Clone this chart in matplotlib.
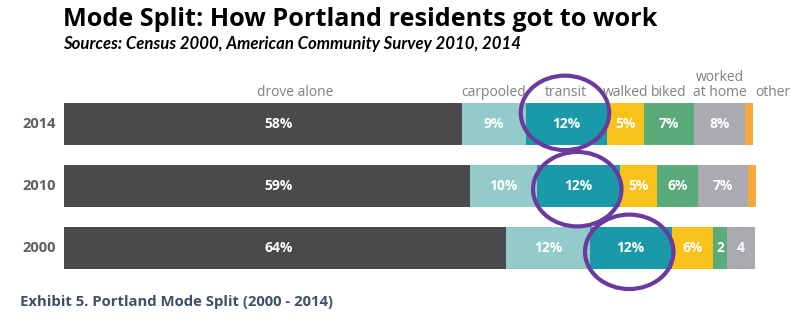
import matplotlib.pyplot as plt
from matplotlib.patches import Ellipse

plt.rcParams['font.family'] = ['Open Sans', 'DejaVu Sans']

# datos (porcentaje)
years = ['2014', '2010', '2000']
modes = ['drove alone', 'carpooled', 'transit', 'walked', 'biked', 'worked\nat home', 'other']
drove = [57.6, 58.7, 64.0]
carpool = [9.2, 9.75, 12.05]
transit = [11.8, 12.06, 11.9]
walked = [5.4, 5.3, 6.0]
biked = [7.1, 6.0, 2.0]
home = [7.5, 7.2, 4.0]
other = [1.1, 1.1, 0.0]
labels = [
    ['58%', '9%', '12%', '5%', '7%', '8%', ''],
    ['59%', '10%', '12%', '5%', '6%', '7%', ''],
    ['64%', '12%', '12%', '6%', '2', '4', ''],
]
colors = ['#4a4a4c', '#93cbcb', '#1a9aa8', '#f9c21a', '#5aaa7a', '#a9abb0', '#f7a83a']

series = [drove, carpool, transit, walked, biked, home, other]

fig = plt.figure(figsize=(8, 3.25), dpi=100)
ax = fig.add_axes([0, 0, 1, 1])
ax.set_xlim(-64 / 6.91, (800 - 64) / 6.91)
ax.set_ylim(3.24, -2.0)
ax.axis('off')

ypos = list(range(len(years)))
left = [0.0] * len(years)
for k, vals in enumerate(series):
    bars = ax.barh(ypos, vals, left=left, height=0.68, color=colors[k], edgecolor='none')
    for i, b in enumerate(bars):
        txt = labels[i][k]
        if txt:
            tx = b.get_x() + b.get_width() / 2
            if k == 0:
                tx = 31  # en el original las etiquetas de "drove alone" van alineadas
            ax.text(tx, ypos[i], txt, ha='center', va='center',
                    color='white', fontsize=10, fontweight='bold')
    # etiqueta de la categoria encima de la barra 2014
    cx = left[0] + vals[0] / 2
    if k == 0:
        cx = 33.5
    if k == len(series) - 1:
        cx = left[0] + 4.0
    ax.text(cx, -0.38, modes[k], ha='center', va='bottom', color='#808080', fontsize=10,
            linespacing=1.0)
    left = [l + v for l, v in zip(left, vals)]

# anos
for i, y in enumerate(years):
    ax.text(-1.2, ypos[i], y, ha='right', va='center', color='#5f5f5f', fontsize=10.5,
            fontweight='bold')

# circulos morados sobre transit
dy = [-0.18, 0.05, 0.06]
for i in range(len(years)):
    cx = drove[i] + carpool[i] + transit[i] / 2
    e = Ellipse((cx - 0.2, ypos[i] + dy[i]), 12.8, 1.2, fill=False, edgecolor='#6b3a9e', lw=3)
    ax.add_patch(e)

fig.text(63 / 800, 1 - 19 / 325, 'Mode Split: How Portland residents got to work', ha='left',
         va='center', fontsize=18.2, fontweight='bold', color='black')
fig.text(63 / 800, 1 - 44 / 325, 'Sources: Census 2000, American Community Survey 2010, 2014',
         ha='left', va='center', fontsize=12.1, fontweight='bold', fontstyle='italic',
         family=['Lato', 'DejaVu Sans'], color='black')
fig.text(20 / 800, 1 - 302 / 325, 'Exhibit 5. Portland Mode Split (2000 - 2014)', ha='left',
         va='center', fontsize=10.7, fontweight='bold', color='#3d4f6a')

plt.savefig('out.png', dpi=100)
plt.close()
